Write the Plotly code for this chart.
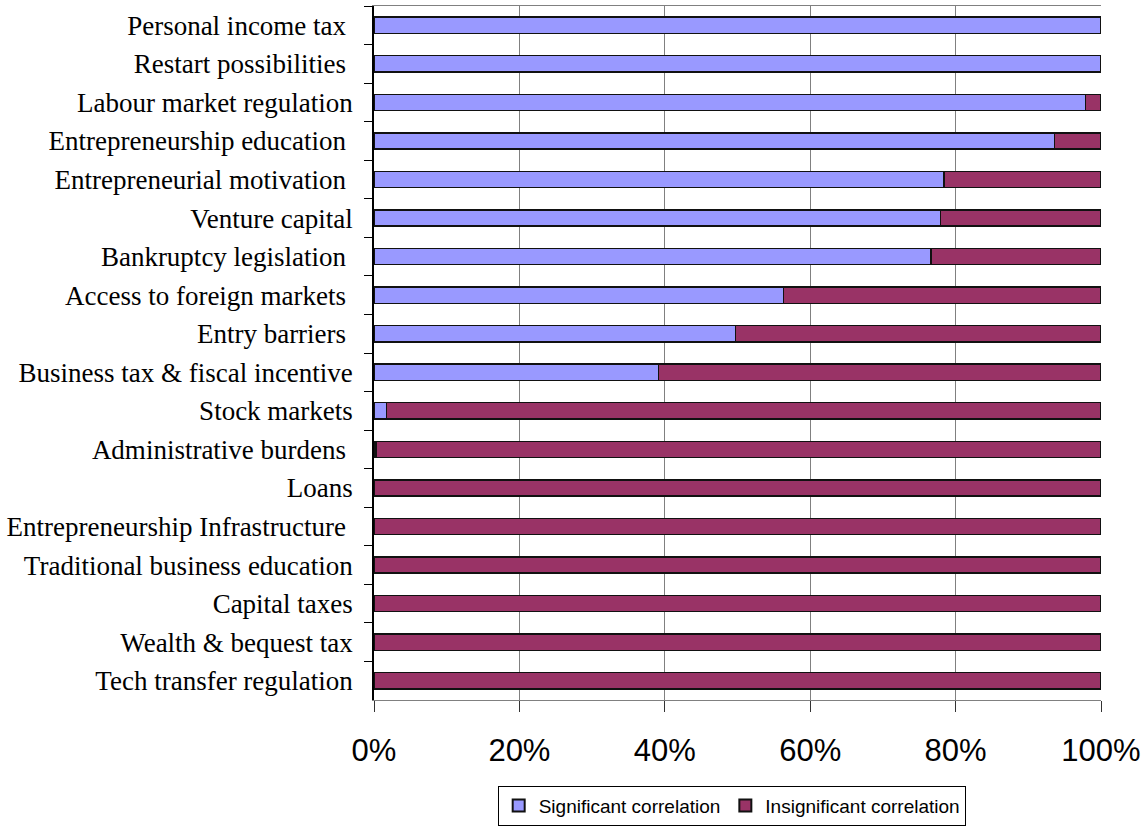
import plotly.graph_objects as go

# Framework conditions, listed top to bottom
categories = [
    "Personal income tax\u00a0",
    "Restart possibilities\u00a0",
    "Labour market regulation",
    "Entrepreneurship education\u00a0",
    "Entrepreneurial motivation\u00a0",
    "Venture capital",
    "Bankruptcy legislation\u00a0",
    "Access to foreign markets\u00a0",
    "Entry barriers\u00a0",
    "Business tax & fiscal incentive",
    "Stock markets",
    "Administrative burdens\u00a0",
    "Loans",
    "Entrepreneurship Infrastructure\u00a0",
    "Traditional business education",
    "Capital taxes",
    "Wealth & bequest tax",
    "Tech transfer regulation",
]

# Share of significant correlations (%)
significant = [100, 100, 97.9, 93.6, 78.4, 77.9, 76.6, 56.3, 49.7, 39.1,
               1.7, 0.3, 0, 0, 0, 0, 0, 0]
# Share of insignificant correlations (%)
insignificant = [0, 0, 2.1, 6.4, 21.6, 22.1, 23.4, 43.7, 50.3, 60.9,
                 98.3, 99.7, 100, 100, 100, 100, 100, 100]

x_ticks = [0, 20, 40, 60, 80, 100]
x_tick_labels = ["0%", "20%", "40%", "60%", "80%", "100%"]

fig = go.Figure()
fig.add_trace(go.Bar(
    y=categories, x=significant, orientation="h",
    name="Significant correlation",
    marker=dict(color="#9999FF", line=dict(color="#111111", width=1.4)),
))
fig.add_trace(go.Bar(
    y=categories, x=insignificant, orientation="h",
    name="Insignificant correlation",
    marker=dict(color="#993366", line=dict(color="#111111", width=1.4)),
))

fig.update_layout(
    width=1143, height=832,
    barmode="stack",
    bargap=0.58,
    plot_bgcolor="white",
    paper_bgcolor="white",
    margin=dict(l=374, r=42, t=6, b=130),
    showlegend=True,
    legend=dict(
        orientation="h",
        x=0.492, xanchor="center",
        y=-0.181, yanchor="bottom",
        font=dict(family="Liberation Sans, Arial", size=19, color="black"),
        bordercolor="black", borderwidth=1,
        itemsizing="constant",
        itemwidth=30,
        tracegroupgap=0,
        traceorder="normal",
    ),
    xaxis=dict(
        range=[0, 100],
        tickvals=x_ticks,
        ticktext=x_tick_labels,
        automargin=False,
        showgrid=True, gridcolor="#808080", gridwidth=1,
        showline=True, linecolor="#808080", linewidth=1, mirror=True,
        ticks="outside", ticklen=11, tickcolor="#333333",
        ticklabelstandoff=12,
        tickfont=dict(family="Liberation Sans, Arial", size=31, color="black"),
        zeroline=False,
        fixedrange=True,
    ),
    yaxis=dict(
        type="category",
        autorange="reversed",
        automargin=False,
        showline=True, linecolor="black", linewidth=1.5,
        ticks="outside", ticklen=8, tickcolor="black",
        tickson="boundaries",
        ticklabelstandoff=14,
        tickfont=dict(family="Liberation Serif, Times New Roman", size=27, color="black"),
        showgrid=False,
        fixedrange=True,
    ),
)

fig.write_html("out.html")
